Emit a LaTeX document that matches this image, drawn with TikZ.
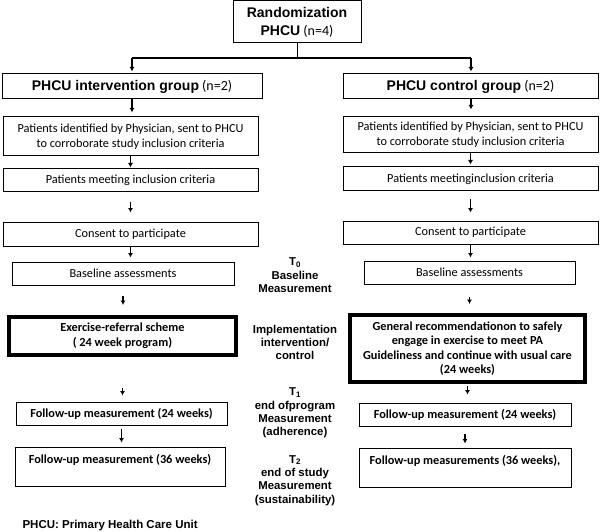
\documentclass[tikz,border=0pt]{standalone}
\usepackage{fontspec}
\setmainfont{Carlito}
\newfontfamily\arialfont{Liberation Sans}
\usetikzlibrary{arrows.meta}

\newcommand{\hd}[1]{{\arialfont\bfseries #1}}

\tikzset{
  box/.style={draw, line width=1pt, fill=white, align=center, inner sep=2pt,
    font=\fontsize{12.3}{15}\selectfont},
  thickbox/.style={box, line width=4pt},
  headbox/.style={box, font=\fontsize{14}{18}\selectfont},
  midlbl/.style={align=center, font=\arialfont\bfseries\fontsize{11.4}{13.4}\selectfont},
  arr/.style={-{Latex[length=4.5pt,width=5pt]}, line width=1.2pt},
  bar/.style={line width=2.6pt},
}

\begin{document}
\begin{tikzpicture}[x=1pt,y=-1pt]
\useasboundingbox (0,0) rectangle (600,532);

% top
\node[headbox, minimum width=128pt, minimum height=42pt] (rand) at (297,22) {\hd{Randomization}\\\hd{PHCU} (n=4)};
\coordinate (split) at (297,58);
\coordinate (splitL) at (132,58);
\coordinate (splitR) at (471,58);

% intervention arm
\node[headbox, minimum width=260pt, minimum height=25pt] (grpL) at (132,86.5) {\hd{PHCU intervention group} (n=2)};
\node[box, minimum width=255pt, minimum height=39pt] (idL) at (130.5,136.5) {Patients identified by Physician, sent to PHCU\\to corroborate study inclusion criteria};
\node[box, minimum width=255pt, minimum height=23pt] (meetL) at (130.5,180.5) {Patients meeting inclusion criteria};
\node[box, minimum width=255pt, minimum height=24pt] (consL) at (130.5,234) {Consent to participate};
\node[box, minimum width=222pt, minimum height=23pt] (baseL) at (123,273.5) {Baseline assessments};
\node[thickbox, minimum width=227pt, minimum height=38pt] (exL) at (122.5,336) {\bfseries Exercise-referral scheme\\\bfseries ( 24 week program)};
\node[box, minimum width=211pt, minimum height=23pt] (fuL) at (121.5,413.5) {\bfseries Follow-up measurement (24 weeks)};
\node[box, minimum width=210pt, minimum height=39pt] (fuendL) at (120,466.5) {\bfseries Follow-up measurement (36 weeks)\\~};

% control arm
\node[headbox, minimum width=255pt, minimum height=25pt] (grpR) at (470.5,86.5) {\hd{PHCU control group} (n=2)};
\node[box, minimum width=255pt, minimum height=36pt] (idR) at (470.5,135) {Patients identified by Physician, sent to PHCU\\to corroborate study inclusion criteria};
\node[box, minimum width=255pt, minimum height=24pt] (meetR) at (470.5,179) {Patients meetinginclusion criteria};
\node[box, minimum width=255pt, minimum height=23pt] (consR) at (470.5,232.5) {Consent to participate};
\node[box, minimum width=211pt, minimum height=23pt] (baseR) at (469.5,272.5) {Baseline assessments};
\node[thickbox, minimum width=235pt, minimum height=67pt, font=\bfseries\fontsize{12.3}{14.5}\selectfont] (genR) at (467.5,348.5) {General recommendationon to safely\\engage in exercise to meet PA\\Guideliness and continue with usual care\\(24 weeks)};
\node[box, minimum width=212pt, minimum height=23pt] (fuR) at (465,414.5) {\bfseries Follow-up measurement (24 weeks)};
\node[box, minimum width=212pt, minimum height=39pt] (fuendR) at (465,467.5) {\bfseries Follow-up measurements (36 weeks),\\~};

% time points
\node[midlbl] (tzero) at (295,275.5) {T\textsubscript{0}\\Baseline\\Measurement};
\node[midlbl] (impl) at (295,342.5) {Implementation\\intervention/\\control};
\node[midlbl] (tone) at (295,413) {T\textsubscript{1}\\end ofprogram\\Measurement\\(adherence)};
\node[midlbl] (ttwo) at (295,480.5) {T\textsubscript{2}\\end of study\\Measurement\\(sustainability)};

\node[anchor=west, font=\arialfont\bfseries\fontsize{11.5}{13}\selectfont] (note) at (19,526) {PHCU: Primary Health Care Unit};

% connectors
\draw[line width=1pt] (rand.south) -- (split);
\draw[bar] (splitL) -- (splitR);
\draw[arr, shorten >=2pt] (splitL) -- (grpL.north);
\draw[arr, shorten >=2pt] (splitR) -- (grpR.north -| splitR);

\draw[arr, shorten >=4pt] (grpL.south) -- (grpL.south |- idL.north);
\draw[arr, shorten >=1pt] (idL.south) -- (idL.south |- meetL.north);
\draw[arr, shorten <=9pt, shorten >=9pt] (meetL.south) -- (meetL.south |- consL.north);
\draw[arr, shorten >=4pt] (consL.south) -- (consL.south |- baseL.north);
\draw[arr, shorten <=10pt, shorten >=10pt] (baseL.south) -- (baseL.south |- exL.north);
\draw[arr, shorten <=31pt, shorten >=6pt] (exL.south) -- (exL.south |- fuL.north);
\draw[arr, shorten <=3pt, shorten >=4pt] (fuL.south) -- (fuL.south |- fuendL.north);

\draw[arr, shorten >=7pt] (grpR.south -| splitR) -- (splitR |- idR.north);
\draw[arr, shorten >=2pt] (idR.south) -- (idR.south |- meetR.north);
\draw[arr, shorten <=7pt, shorten >=8pt] (meetR.south) -- (meetR.south |- consR.north);
\draw[arr, shorten >=3pt] (consR.south) -- (consR.south |- baseR.north);
\draw[arr, shorten <=12pt, shorten >=9pt] (baseR.south) -- (baseR.south |- genR.north);
\draw[arr, shorten <=2pt, shorten >=8pt] (genR.south) -- (genR.south |- fuR.north);
\draw[arr, shorten <=7pt, shorten >=4pt] (fuR.south) -- (fuR.south |- fuendR.north);
\end{tikzpicture}
\end{document}
